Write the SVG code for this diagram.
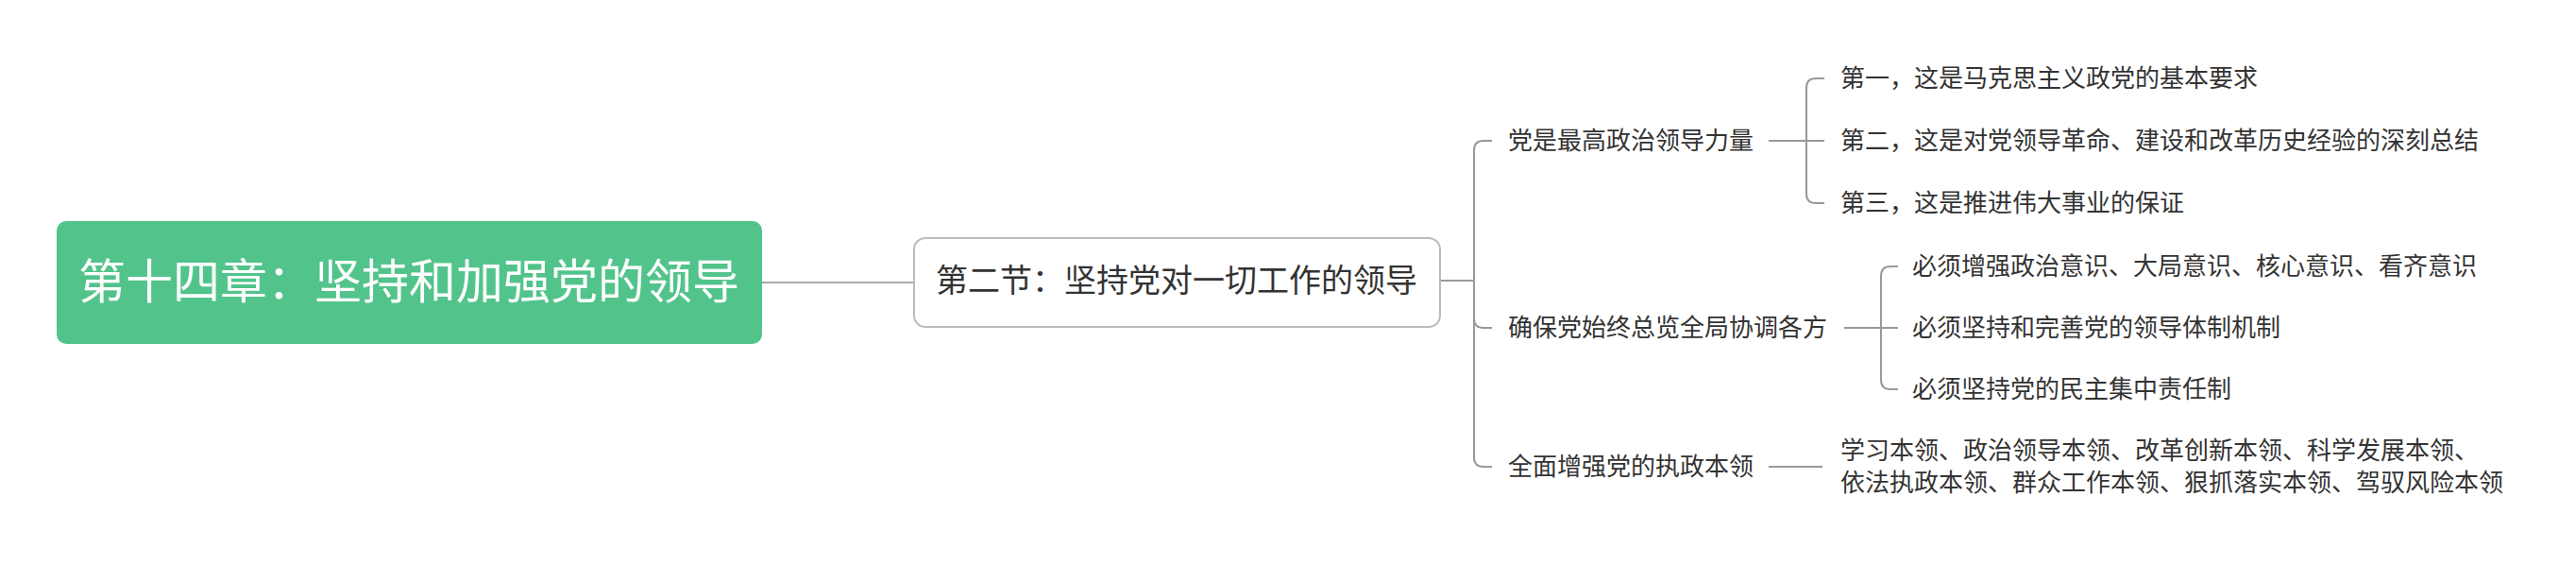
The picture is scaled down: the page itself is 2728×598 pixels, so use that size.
<svg xmlns="http://www.w3.org/2000/svg" width="2728" height="598" viewBox="0 0 2728 598">
<style>
text{font-family:"Noto Sans CJK SC","Noto Sans",sans-serif;fill:#333}
.c{fill:none;stroke:#999;stroke-width:2}
.t{font-size:26px}
</style>
<rect width="2728" height="598" fill="#fff"/>
<g id="connectors">
<path class="c" style="stroke:#aaa" d="M807 299H968"/>
<path class="c" d="M1525 297H1561"/>
<path class="c" d="M1561 297V159Q1561 149 1571 149H1580"/>
<path class="c" d="M1561 297V337Q1561 347 1571 347H1580"/>
<path class="c" d="M1561 297V484Q1561 494 1571 494H1580"/>
<path class="c" d="M1873 149H1913"/>
<path class="c" d="M1913 149V93Q1913 83 1923 83H1932"/>
<path class="c" d="M1913 149H1932"/>
<path class="c" d="M1913 149V205Q1913 215 1923 215H1932"/>
<path class="c" d="M1953 347H1992"/>
<path class="c" d="M1992 347V292Q1992 282 2002 282H2010"/>
<path class="c" d="M1992 347H2010"/>
<path class="c" d="M1992 347V402Q1992 412 2002 412H2010"/>
<path class="c" d="M1873 494H1930"/>
</g>
<g id="root">
<rect x="60" y="234" width="747" height="130" rx="10" fill="#52c48b"/>
<text x="433" y="316" font-size="50" text-anchor="middle" style="fill:#fff">第十四章：坚持和加强党的领导</text>
</g>
<g id="n2">
<rect x="968" y="252" width="557" height="94" rx="12" fill="#fff" stroke="#bbb" stroke-width="2"/>
<text x="1246" y="309" font-size="34" text-anchor="middle">第二节：坚持党对一切工作的领导</text>
</g>
<g id="b1"><text class="t" x="1597" y="158">党是最高政治领导力量</text></g>
<g id="b1c1"><text class="t" x="1949" y="92">第一，这是马克思主义政党的基本要求</text></g>
<g id="b1c2"><text class="t" x="1949" y="158">第二，这是对党领导革命、建设和改革历史经验的深刻总结</text></g>
<g id="b1c3"><text class="t" x="1949" y="224">第三，这是推进伟大事业的保证</text></g>
<g id="b2"><text class="t" x="1597" y="356">确保党始终总览全局协调各方</text></g>
<g id="b2c1"><text class="t" x="2025" y="291">必须增强政治意识、大局意识、核心意识、看齐意识</text></g>
<g id="b2c2"><text class="t" x="2025" y="356">必须坚持和完善党的领导体制机制</text></g>
<g id="b2c3"><text class="t" x="2025" y="421">必须坚持党的民主集中责任制</text></g>
<g id="b3"><text class="t" x="1597" y="503">全面增强党的执政本领</text></g>
<g id="b3c1"><text class="t" x="1949" y="486">学习本领、政治领导本领、改革创新本领、科学发展本领、<tspan x="1949" y="520">依法执政本领、群众工作本领、狠抓落实本领、驾驭风险本领</tspan></text></g>
</svg>
